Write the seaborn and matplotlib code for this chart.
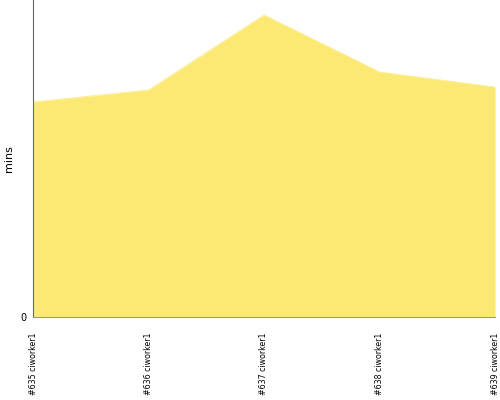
import matplotlib
matplotlib.use("Agg")
import matplotlib.pyplot as plt
import seaborn as sns

# build durations
builds = ["#635 ciworker1", "#636 ciworker1", "#637 ciworker1", "#638 ciworker1", "#639 ciworker1"]
mins = [21.5, 22.7, 30.2, 24.5, 23.0]

sns.set_style("white")
plt.rcParams["font.family"] = ["DejaVu Sans"]

fig = plt.figure(figsize=(5, 4), dpi=100)
ax = fig.add_axes([0.066, 0.2075, 0.924, 0.7925])

x = list(range(len(builds)))
ax.fill_between(x, 0, mins, color="#fce974", linewidth=0)
sns.lineplot(x=x, y=mins, ax=ax, color="#fce974", linewidth=0.5)

ax.set_xlim(0, len(builds) - 1)
ax.set_ylim(0, 31.7)
ax.set_yticks([0])
ax.set_yticklabels(["0"], fontsize=7, color="black")
ax.set_xticks(x)
ax.set_xticklabels(builds, rotation=90, fontsize=5.7, color="black")
ax.set_ylabel("mins", fontsize=8, color="black")

for side in ["top", "right"]:
    ax.spines[side].set_visible(False)
ax.spines["left"].set_color("#666666")
ax.spines["bottom"].set_color("#999999")
ax.tick_params(axis="y", length=3, color="#999999", pad=2)
ax.tick_params(axis="x", length=0, pad=11)

fig.savefig("out.png", dpi=100)
